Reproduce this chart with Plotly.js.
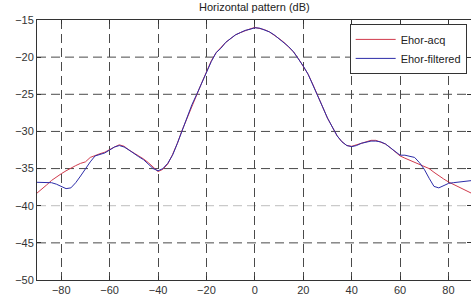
<!DOCTYPE html>
<html><head><meta charset="utf-8">
<script src="https://cdn.plot.ly/plotly-3.0.1.min.js"></script>
<style>html,body{margin:0;padding:0;background:#fff}#chart{width:471px;height:295px}</style>
</head><body><div id="chart"></div>
<script>
const angles = [-90,-88,-86,-84,-82,-80,-78,-76,-74,-72,-70,-68,-66,-64,-62,-60,-58,-56,-54,-52,-50,-48,-46,-44,-42,-40,-38,-36,-34,-32,-30,-28,-26,-24,-22,-20,-18,-16,-14,-12,-10,-8,-6,-4,-2,0,2,4,6,8,10,12,14,16,18,20,22,24,26,28,30,32,34,36,38,40,42,44,46,48,50,52,54,56,58,60,62,64,66,68,70,72,74,76,78,80,82,84,86,88,90];
const ehorAcq = [-38.3,-37.8,-37.2,-36.6,-36.1,-35.7,-35.3,-34.9,-34.6,-34.3,-34.1,-33.5,-33.2,-33.0,-32.8,-32.4,-32.1,-31.8,-32.0,-32.5,-32.9,-33.2,-33.7,-34.2,-34.8,-35.4,-35.1,-34.4,-33.1,-31.6,-29.8,-28.2,-26.5,-25.0,-23.5,-22.0,-20.5,-19.4,-18.7,-18.0,-17.5,-17.0,-16.7,-16.4,-16.2,-16.0,-16.1,-16.3,-16.6,-17.0,-17.5,-18.0,-18.6,-19.3,-20.2,-21.2,-22.3,-23.7,-25.1,-26.7,-28.2,-29.5,-30.6,-31.4,-31.9,-32.0,-31.8,-31.5,-31.3,-31.2,-31.2,-31.4,-31.7,-32.2,-32.8,-33.3,-33.6,-33.9,-34.2,-34.5,-34.8,-35.0,-35.5,-36.0,-36.4,-36.8,-37.1,-37.4,-37.8,-38.1,-38.4];
const ehorFiltered = [-36.85,-36.85,-36.85,-36.9,-37.1,-37.4,-37.7,-37.6,-36.9,-36.0,-35.0,-34.1,-33.3,-33.1,-32.9,-32.5,-32.1,-31.9,-32.1,-32.5,-33.0,-33.4,-33.8,-34.4,-35.0,-35.3,-35.0,-34.3,-33.2,-31.6,-29.9,-28.2,-26.4,-25.0,-23.5,-22.0,-20.6,-19.4,-18.8,-18.0,-17.5,-17.0,-16.7,-16.4,-16.25,-16.05,-16.1,-16.3,-16.6,-17.0,-17.5,-18.0,-18.6,-19.3,-20.2,-21.2,-22.3,-23.7,-25.1,-26.7,-28.2,-29.5,-30.6,-31.4,-31.9,-32.05,-31.9,-31.6,-31.4,-31.3,-31.3,-31.4,-31.7,-32.2,-32.8,-33.2,-33.2,-33.3,-33.5,-34.2,-35.1,-36.3,-37.4,-37.6,-37.3,-37.0,-36.9,-36.85,-36.8,-36.7,-36.6];
const seriesNames = ['Ehor-acq','Ehor-filtered'];
const xTicks = [-80,-60,-40,-20,0,20,40,60,80];
const yTicks = [-50,-45,-40,-35,-30,-25,-20,-15];
const lightGridValue = -40;

const traces = [
  {x: angles, y: ehorAcq, name: seriesNames[0], mode: 'lines', line: {color: '#d03a4c', width: 1}},
  {x: angles, y: ehorFiltered, name: seriesNames[1], mode: 'lines', line: {color: '#2c2ca8', width: 1}}
];

const shapes = yTicks.filter(v => v > -50 && v < -15).map(v => ({
  type: 'line', xref: 'paper', x0: 0, x1: 1, yref: 'y', y0: v, y1: v, layer: 'below',
  line: {color: v === lightGridValue ? '#bdbdbd' : '#4a4a4a', width: 1, dash: '9px,5px'}
}));

const ff = 'Liberation Sans, Arial, sans-serif';
const layout = {
  width: 471, height: 295,
  margin: {l: 37, r: 0, t: 20, b: 15, pad: 0},
  paper_bgcolor: '#fff', plot_bgcolor: '#fff',
  font: {family: ff, size: 11, color: '#333'},
  title: {text: 'Horizontal pattern (dB)', font: {family: ff, size: 11, color: '#222'}, x: 0.54, xanchor: 'center', y: 0.988, yanchor: 'top'},
  showlegend: true,
  legend: {x: 0.99, xanchor: 'right', y: 0.985, yanchor: 'top', bordercolor: '#333', borderwidth: 1, bgcolor: '#fff',
           font: {family: ff, size: 11, color: '#222'}, tracegroupgap: 0, itemwidth: 40},
  xaxis: {range: [-90, 89.3], tickvals: xTicks, showgrid: true, gridcolor: '#4a4a4a', griddash: '9px,5px', gridwidth: 1,
          zeroline: false, showline: true, linecolor: '#333', linewidth: 1, mirror: 'ticks', ticks: 'inside', ticklen: 4, tickcolor: '#333'},
  yaxis: {range: [-50, -15], tickvals: yTicks, showgrid: false,
          zeroline: false, showline: true, linecolor: '#333', linewidth: 1, mirror: 'ticks', ticks: 'inside', ticklen: 4, tickcolor: '#333'},
  shapes: shapes
};
Plotly.newPlot('chart', traces, layout, {staticPlot: true, displayModeBar: false});
</script></body></html>
